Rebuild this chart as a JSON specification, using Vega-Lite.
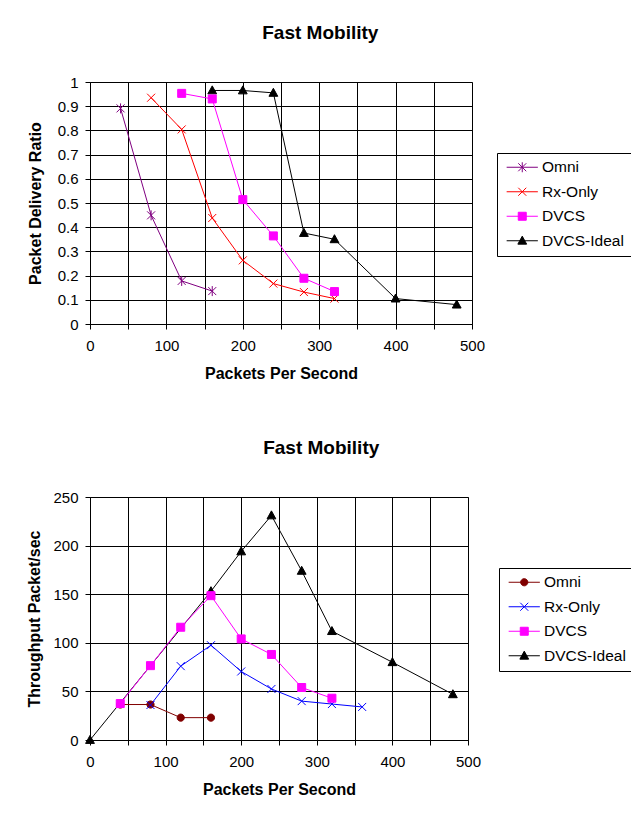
{
  "$schema": "https://vega.github.io/schema/vega-lite/v6.json",
  "background": "white",
  "padding": {"left": 26, "top": 23, "right": 2, "bottom": 2},
  "autosize": {"type": "pad"},
  "datasets": {
    "pdr": [
      {"series": "DVCS-Ideal", "pps": 160, "value": 0.965},
      {"series": "DVCS-Ideal", "pps": 200, "value": 0.965},
      {"series": "DVCS-Ideal", "pps": 240, "value": 0.955},
      {"series": "DVCS-Ideal", "pps": 280, "value": 0.376},
      {"series": "DVCS-Ideal", "pps": 320, "value": 0.35},
      {"series": "DVCS-Ideal", "pps": 400, "value": 0.105},
      {"series": "DVCS-Ideal", "pps": 480, "value": 0.08},
      {"series": "Omni", "pps": 40, "value": 0.891},
      {"series": "Omni", "pps": 80, "value": 0.449},
      {"series": "Omni", "pps": 120, "value": 0.178},
      {"series": "Omni", "pps": 160, "value": 0.136},
      {"series": "Rx-Only", "pps": 80, "value": 0.935},
      {"series": "Rx-Only", "pps": 120, "value": 0.804},
      {"series": "Rx-Only", "pps": 160, "value": 0.438},
      {"series": "Rx-Only", "pps": 200, "value": 0.263},
      {"series": "Rx-Only", "pps": 240, "value": 0.167},
      {"series": "Rx-Only", "pps": 280, "value": 0.132},
      {"series": "Rx-Only", "pps": 320, "value": 0.105},
      {"series": "DVCS", "pps": 120, "value": 0.953},
      {"series": "DVCS", "pps": 160, "value": 0.93},
      {"series": "DVCS", "pps": 200, "value": 0.514},
      {"series": "DVCS", "pps": 240, "value": 0.364},
      {"series": "DVCS", "pps": 280, "value": 0.189},
      {"series": "DVCS", "pps": 320, "value": 0.134}
    ],
    "thr": [
      {"series": "DVCS-Ideal", "pps": 0, "value": 0},
      {"series": "DVCS-Ideal", "pps": 160, "value": 153},
      {"series": "DVCS-Ideal", "pps": 200, "value": 194},
      {"series": "DVCS-Ideal", "pps": 240, "value": 231},
      {"series": "DVCS-Ideal", "pps": 280, "value": 174},
      {"series": "DVCS-Ideal", "pps": 320, "value": 112},
      {"series": "DVCS-Ideal", "pps": 400, "value": 80},
      {"series": "DVCS-Ideal", "pps": 480, "value": 47},
      {"series": "Omni", "pps": 40, "value": 36.5},
      {"series": "Omni", "pps": 80, "value": 36.5},
      {"series": "Omni", "pps": 120, "value": 23},
      {"series": "Omni", "pps": 160, "value": 23},
      {"series": "Rx-Only", "pps": 80, "value": 36},
      {"series": "Rx-Only", "pps": 120, "value": 76},
      {"series": "Rx-Only", "pps": 160, "value": 97.5},
      {"series": "Rx-Only", "pps": 200, "value": 70.5},
      {"series": "Rx-Only", "pps": 240, "value": 52.5},
      {"series": "Rx-Only", "pps": 280, "value": 40},
      {"series": "Rx-Only", "pps": 320, "value": 37},
      {"series": "Rx-Only", "pps": 360, "value": 34},
      {"series": "DVCS", "pps": 40, "value": 37.5},
      {"series": "DVCS", "pps": 80, "value": 76.5},
      {"series": "DVCS", "pps": 120, "value": 116},
      {"series": "DVCS", "pps": 160, "value": 148.5},
      {"series": "DVCS", "pps": 200, "value": 104},
      {"series": "DVCS", "pps": 240, "value": 88},
      {"series": "DVCS", "pps": 280, "value": 54},
      {"series": "DVCS", "pps": 320, "value": 43}
    ]
  },
  "spacing": 56,
  "vconcat": [
    {
      "width": 382,
      "height": 242,
      "title": {"text": "Fast Mobility", "anchor": "middle", "frame": "bounds", "offset": 32, "dx": -9},
      "data": {"name": "pdr"},
      "encoding": {
        "x": {"field": "pps", "type": "quantitative", "scale": {"domain": [0, 500], "nice": false},
          "axis": {"title": "Packets Per Second", "values": [0, 50, 100, 150, 200, 250, 300, 350, 400, 450, 500],
            "labelExpr": "datum.value % 100 === 0 ? datum.label : ''"}},
        "y": {"field": "value", "type": "quantitative", "scale": {"domain": [0, 1], "nice": false},
          "axis": {"title": "Packet Delivery Ratio", "titlePadding": 14, "values": [0, 0.1, 0.2, 0.3, 0.4, 0.5, 0.6, 0.7, 0.8, 0.9, 1],
            "labelExpr": "format(datum.value, '.1~f')"}}
      },
      "layer": [
        {
          "mark": {"type": "line", "strokeWidth": 1},
          "encoding": {
            "detail": {"field": "series"},
            "color": {"field": "series", "type": "nominal",
              "scale": {"domain": ["Omni", "Rx-Only", "DVCS", "DVCS-Ideal"], "range": ["#800080", "#ff0000", "#ff00ff", "#000000"]},
              "legend": {
                "orient": "none", "legendX": 407, "legendY": 71, "title": null,
                "encode": {"symbols": {"update": {
                  "shape": {"signal": "datum.value === 'Omni' ? 'M-3.9,0L3.9,0M-1,-1L1,1M-1,1L1,-1M0,-1.25L0,1.25' : datum.value === 'Rx-Only' ? 'M-3.9,0L3.9,0M-1,-1L1,1M-1,1L1,-1' : datum.value === 'DVCS' ? 'M-3.9,0L3.9,0M-1,-1L1,-1L1,1L-1,1Z' : 'M-3.9,0L3.9,0M0,-1.15L1.1,0.85L-1.1,0.85Z'"},
                  "fill": {"signal": "datum.value === 'Omni' ? '#800080' : datum.value === 'Rx-Only' ? '#ff0000' : datum.value === 'DVCS' ? '#ff00ff' : '#000000'"},
                  "stroke": {"signal": "datum.value === 'Omni' ? '#800080' : datum.value === 'Rx-Only' ? '#ff0000' : datum.value === 'DVCS' ? '#ff00ff' : '#000000'"},
                  "strokeWidth": {"value": 1},
                  "opacity": {"value": 1}
                }}}
              }}
          }
        },
        {
          "mark": {"type": "point", "filled": true, "size": 64, "strokeWidth": 1, "opacity": 1},
          "encoding": {
            "fill": {"field": "series", "type": "nominal",
              "scale": {"domain": ["DVCS-Ideal", "Omni", "Rx-Only", "DVCS"], "range": ["#000000", "#800080", "#ff0000", "#ff00ff"]}, "legend": null},
            "stroke": {"field": "series", "type": "nominal",
              "scale": {"domain": ["DVCS", "DVCS-Ideal", "Omni", "Rx-Only"], "range": ["#ff00ff", "#000000", "#800080", "#ff0000"]}, "legend": null},
            "shape": {"field": "series", "type": "nominal",
              "scale": {"domain": ["Rx-Only", "DVCS", "DVCS-Ideal", "Omni"], "range": ["M-1,-1L1,1M-1,1L1,-1", "M-1,-1H1V1H-1Z", "M0,-1.15L1.1,0.85H-1.1Z", "M-1,-1L1,1M-1,1L1,-1M0,-1.25V1.25"]}, "legend": null}
          }
        }
      ]
    },
    {
      "width": 378,
      "height": 243,
      "title": {"text": "Fast Mobility", "anchor": "middle", "frame": "bounds", "offset": 32, "dx": -9},
      "data": {"name": "thr"},
      "encoding": {
        "x": {"field": "pps", "type": "quantitative", "scale": {"domain": [0, 500], "nice": false},
          "axis": {"title": "Packets Per Second", "values": [0, 50, 100, 150, 200, 250, 300, 350, 400, 450, 500],
            "labelExpr": "datum.value % 100 === 0 ? datum.label : ''"}},
        "y": {"field": "value", "type": "quantitative", "scale": {"domain": [0, 250], "nice": false},
          "axis": {"title": "Throughput Packet/sec", "titlePadding": 10, "values": [0, 50, 100, 150, 200, 250]}}
      },
      "layer": [
        {
          "mark": {"type": "line", "strokeWidth": 1},
          "encoding": {
            "detail": {"field": "series"},
            "color": {"field": "series", "type": "nominal",
              "scale": {"domain": ["Omni", "Rx-Only", "DVCS", "DVCS-Ideal"], "range": ["#800000", "#0000ff", "#ff00ff", "#000000"]},
              "legend": {
                "orient": "none", "legendX": 409, "legendY": 71, "title": null,
                "encode": {"symbols": {"update": {
                  "shape": {"signal": "datum.value === 'Omni' ? 'M-3.9,0L3.9,0M-0.9,0A0.9,0.9,0,1,1,0.9,0A0.9,0.9,0,1,1,-0.9,0Z' : datum.value === 'Rx-Only' ? 'M-3.9,0L3.9,0M-1,-1L1,1M-1,1L1,-1' : datum.value === 'DVCS' ? 'M-3.9,0L3.9,0M-1,-1L1,-1L1,1L-1,1Z' : 'M-3.9,0L3.9,0M0,-1.15L1.1,0.85L-1.1,0.85Z'"},
                  "fill": {"signal": "datum.value === 'Omni' ? '#800000' : datum.value === 'Rx-Only' ? '#0000ff' : datum.value === 'DVCS' ? '#ff00ff' : '#000000'"},
                  "stroke": {"signal": "datum.value === 'Omni' ? '#800000' : datum.value === 'Rx-Only' ? '#0000ff' : datum.value === 'DVCS' ? '#ff00ff' : '#000000'"},
                  "strokeWidth": {"value": 1},
                  "opacity": {"value": 1}
                }}}
              }}
          }
        },
        {
          "mark": {"type": "point", "filled": true, "size": 64, "strokeWidth": 1, "opacity": 1},
          "encoding": {
            "fill": {"field": "series", "type": "nominal",
              "scale": {"domain": ["DVCS-Ideal", "Omni", "Rx-Only", "DVCS"], "range": ["#000000", "#800000", "#0000ff", "#ff00ff"]}, "legend": null},
            "stroke": {"field": "series", "type": "nominal",
              "scale": {"domain": ["DVCS", "DVCS-Ideal", "Omni", "Rx-Only"], "range": ["#ff00ff", "#000000", "#800000", "#0000ff"]}, "legend": null},
            "shape": {"field": "series", "type": "nominal",
              "scale": {"domain": ["Rx-Only", "DVCS", "DVCS-Ideal", "Omni"], "range": ["M-1,-1L1,1M-1,1L1,-1", "M-1,-1H1V1H-1Z", "M0,-1.15L1.1,0.85H-1.1Z", "M-0.9,0A0.9,0.9,0,1,1,0.9,0A0.9,0.9,0,1,1,-0.9,0Z"]}, "legend": null}
          }
        }
      ]
    }
  ],
  "resolve": {
    "scale": {"color": "independent", "fill": "independent", "stroke": "independent", "shape": "independent", "x": "independent", "y": "independent"}
  },
  "config": {
    "font": "Liberation Sans",
    "view": {"stroke": "#808080", "strokeWidth": 1},
    "title": {"fontSize": 19, "fontWeight": "bold", "color": "#000000", "font": "Liberation Sans"},
    "axis": {
      "domainColor": "#000000", "tickColor": "#000000", "gridColor": "#000000", "gridOpacity": 1, "gridWidth": 1,
      "labelFontSize": 15, "labelColor": "#000000", "labelFont": "Liberation Sans",
      "titleFontSize": 16, "titleFontWeight": "bold", "titleColor": "#000000", "titleFont": "Liberation Sans",
      "tickSize": 5, "labelPadding": 7, "labelFlush": false, "labelOverlap": false
    },
    "axisX": {"labelPadding": 9, "titlePadding": 12},
    "legend": {
      "strokeColor": "#000000", "fillColor": "#ffffff", "padding": 6.5,
      "labelFontSize": 15.5, "labelColor": "#000000", "labelFont": "Liberation Sans",
      "symbolSize": 64, "symbolOffset": 11, "labelOffset": 12, "rowPadding": 7.5, "symbolStrokeWidth": 1
    }
  }
}
